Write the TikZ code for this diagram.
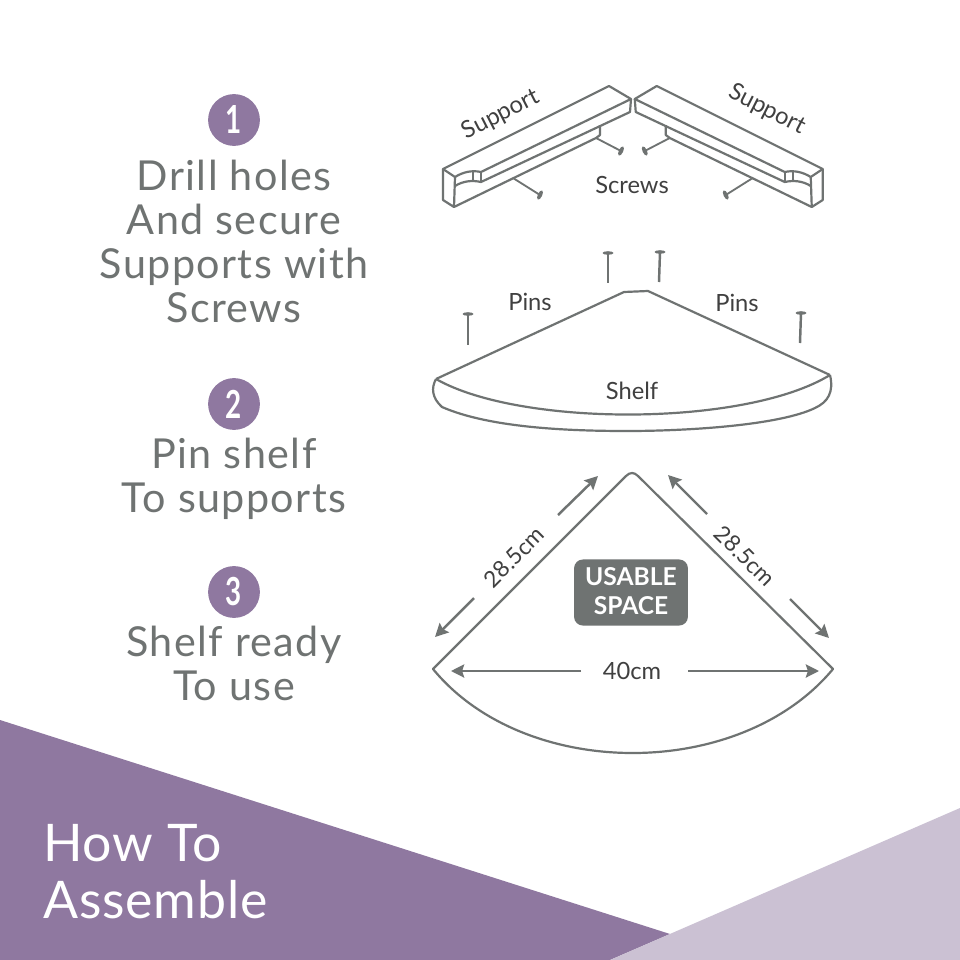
\documentclass[tikz,border=0pt]{standalone}
\usepackage{fontspec}
\setmainfont{Lato}
\newfontfamily\stepfont[LetterSpace=3.4]{Lato}
\newfontfamily\titlefont[LetterSpace=1.5]{Lato}
\newfontfamily\numberfont[FakeStretch=0.72]{Lato}
\usetikzlibrary{arrows.meta}
\definecolor{inkgrey}{HTML}{6F7372}
\definecolor{darkpurple}{HTML}{8F78A0}
\definecolor{lightpurple}{HTML}{CBC1D3}
\begin{document}
\begin{tikzpicture}[
      x=0.02cm, y=-0.02cm,
      line_style/.style={draw=inkgrey, line width=1.25pt, line join=round},
      thin_style/.style={draw=inkgrey, line width=1.05pt, line join=round},
      arrow_style/.style={draw=inkgrey, line width=1.4pt, -{Stealth[length=7.5pt, width=7.5pt, inset=1.2pt]}},
      number_style/.style={circle, fill=darkpurple, minimum size=29.5pt, inner sep=0pt, text=white, font=\numberfont\fontsize{22}{22}\selectfont\bfseries},
      step_style/.style={text=inkgrey, font=\stepfont\fontsize{23.5}{23.5}\selectfont, inner sep=0pt, anchor=base},
      title_style/.style={text=white, font=\titlefont\fontsize{29.5}{29.5}\selectfont, inner sep=0pt, anchor=west},
      label_style/.style={text=black!75, font=\fontsize{13.5}{13.5}\selectfont, inner sep=0pt}
  ]

      \def\supportpart{
          \draw[line_style] (443,169) -- (609,86) -- (631,99) -- (481,172) .. controls (472,170) and (463,172) .. (455,177) -- cycle;
          \draw[line_style] (443,169) -- (443,200) -- (454,207) -- (455,177);
          \draw[line_style] (631,99) -- (630,112) -- (481,182) .. controls (472,180) and (463,181) .. (455,186);
          \draw[line_style] (454,207) -- (596,138) -- (600,135) -- (600,125);
          \draw[thin_style] (473,171) -- (473,182);
          \draw[thin_style] (481,172) -- (481,182);
          \draw[thin_style] (513,178) -- (540,195);
          \draw[thin_style] (596,138) -- (621,151);
          \fill[inkgrey, rotate around={65:(540,195)}] (540,195) ellipse (5 and 2.2);
          \fill[inkgrey, rotate around={65:(621,151)}] (621,151) ellipse (5 and 2.2);
      }

      % background
      \fill[white] (0,0) rectangle (960,960);
      \fill[darkpurple] (0,720) -- (670,934) -- (610,960) -- (0,960) -- cycle;
      \fill[lightpurple] (960,808) -- (960,960) -- (610,960) -- cycle;
      \node[title_style] (howto) at (43,843) {How To};
      \node[title_style] (assemble) at (43,900) {Assemble};

      % steps
      \node[number_style] (one) at (234,120) {1};
      \node[step_style] at (234,190) {Drill holes};
      \node[step_style] at (234,234) {And secure};
      \node[step_style] at (234,278) {Supports with};
      \node[step_style] at (234,322) {Screws};
      \node[number_style] (two) at (234,404) {2};
      \node[step_style] at (234,468.5) {Pin shelf};
      \node[step_style] at (234,512.5) {To supports};
      \node[number_style] (three) at (234,592) {3};
      \node[step_style] at (234,656.5) {Shelf ready};
      \node[step_style] at (234,700.5) {To use};

      % supports
      \supportpart
      \begin{scope}[xshift=25.32cm, xscale=-1]
          \supportpart
      \end{scope}
      \node[label_style, rotate=27] (supportl) at (501,115) {Support};
      \node[label_style, rotate=-27] (supportr) at (767,110) {Support};
      \node[label_style] (screws) at (632,185) {Screws};

      % pins and shelf
      \foreach \px/\py/\qx/\qy in {468/314/468/345, 608/253/608/283, 660/252/659/282, 801/313/800/343} {
          \draw[draw=inkgrey, line width=1.4pt] (\px,\py) -- (\qx,\qy);
          \fill[inkgrey] (\px,\py) ellipse (5.5 and 1.8);
      }
      \draw[line_style] (436,379) -- (624,292) -- (648,291) -- (830,375);
      \draw[line_style] (436,379) .. controls (520,427) and (745,427) .. (830,375);
      \draw[line_style] (436,379) .. controls (431,388) and (432,398) .. (442,407)
          .. controls (490,428) and (570,431) .. (627,431)
          .. controls (690,431) and (780,425) .. (815,408)
          .. controls (828,402) and (834,392) .. (830,375);
      \node[label_style] (pinsl) at (530,302) {Pins};
      \node[label_style] (pinsr) at (737,303) {Pins};
      \node[label_style] (shelf) at (632,391) {Shelf};

      % usable space
      \draw[line_style] (433,669) -- (626,476) .. controls (630,472) and (634,472) .. (638,476) -- (833,669)
          .. controls (740,781) and (525,781) .. (433,669) -- cycle;
      \node[fill=inkgrey, rounded corners=5pt, minimum width=64.8pt, minimum height=37.6pt, inner sep=0pt] (usable) at (631,592.5) {};
      \node[text=white, font=\fontsize{14}{14}\selectfont\bfseries, inner sep=0pt] at (631,577) {USABLE};
      \node[text=white, font=\fontsize{14}{14}\selectfont\bfseries, inner sep=0pt] at (631,606) {SPACE};

      % dimensions
      \node[label_style, rotate=45, font=\fontsize{13}{13}\selectfont] (dimleft) at (514,557) {28.5cm};
      \node[label_style, rotate=-45, font=\fontsize{13}{13}\selectfont] (dimright) at (745,556) {28.5cm};
      \node[label_style] (dimwidth) at (632,671) {40cm};
      \coordinate (la) at (558,515);
      \coordinate (lb) at (598,476);
      \coordinate (lc) at (474,598);
      \coordinate (ld) at (435,637);
      \coordinate (ra) at (707,514);
      \coordinate (rb) at (668,475);
      \coordinate (rc) at (790,599);
      \coordinate (rd) at (829,638);
      \coordinate (wa) at (581,671);
      \coordinate (wb) at (451,671);
      \coordinate (wc) at (688,671);
      \coordinate (wd) at (819,671);
      \draw[arrow_style] (la) -- (lb);
      \draw[arrow_style] (lc) -- (ld);
      \draw[arrow_style] (ra) -- (rb);
      \draw[arrow_style] (rc) -- (rd);
      \draw[arrow_style] (wa) -- (wb);
      \draw[arrow_style] (wc) -- (wd);
  \end{tikzpicture}
\end{document}
